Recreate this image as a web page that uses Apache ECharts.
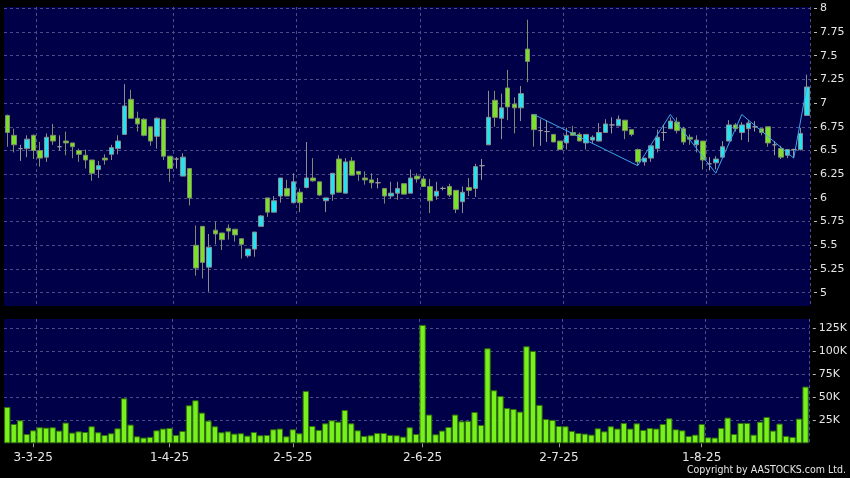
<!DOCTYPE html>
<html><head><meta charset="utf-8">
<script src="https://cdn.jsdelivr.net/npm/echarts@6/dist/echarts.min.js"></script>
<style>html,body{margin:0;padding:0;background:#000;}#c{width:850px;height:478px;}</style>
</head><body><div id="c"></div><script>
const dates = [
'25-2-25','26-2-25','27-2-25','28-2-25',
'3-3-25','4-3-25','5-3-25','6-3-25','7-3-25','10-3-25','11-3-25','12-3-25','13-3-25','14-3-25','17-3-25','18-3-25','19-3-25','20-3-25','21-3-25','24-3-25','25-3-25','26-3-25','27-3-25','28-3-25','31-3-25',
'1-4-25','2-4-25','3-4-25','7-4-25','8-4-25','9-4-25','10-4-25','11-4-25','14-4-25','15-4-25','16-4-25','17-4-25','22-4-25','23-4-25','24-4-25','25-4-25','28-4-25','29-4-25','30-4-25',
'2-5-25','6-5-25','7-5-25','8-5-25','9-5-25','12-5-25','13-5-25','14-5-25','15-5-25','16-5-25','19-5-25','20-5-25','21-5-25','22-5-25','23-5-25','26-5-25','27-5-25','28-5-25','29-5-25','30-5-25',
'2-6-25','3-6-25','4-6-25','5-6-25','6-6-25','9-6-25','10-6-25','11-6-25','12-6-25','13-6-25','16-6-25','17-6-25','18-6-25','19-6-25','20-6-25','23-6-25','24-6-25','25-6-25','26-6-25','27-6-25','30-6-25',
'2-7-25','3-7-25','4-7-25','7-7-25','8-7-25','9-7-25','10-7-25','11-7-25','14-7-25','15-7-25','16-7-25','17-7-25','18-7-25','21-7-25','22-7-25','23-7-25','24-7-25','25-7-25','28-7-25','29-7-25','30-7-25','31-7-25',
'1-8-25','4-8-25','5-8-25','6-8-25','7-8-25','8-8-25','11-8-25','12-8-25','13-8-25','14-8-25','15-8-25','18-8-25','19-8-25','20-8-25','21-8-25','22-8-25','25-8-25'];

const opens = [6.87,6.66,6.52,6.52,6.66,6.50,6.43,6.66,6.54,6.60,6.58,6.50,6.45,6.40,6.30,6.42,6.46,6.52,6.67,7.04,6.84,6.83,6.75,6.65,6.83,
6.44,6.41,6.23,6.31,5.50,5.70,5.27,5.66,5.63,5.68,5.67,5.57,5.39,5.46,5.70,6.00,5.85,6.02,6.10,
5.95,6.06,6.11,6.21,6.17,5.97,6.04,6.41,6.05,6.39,6.28,6.21,6.19,6.16,6.10,6.02,6.05,6.15,6.05,6.23,
6.20,6.12,6.02,6.10,6.12,6.08,5.96,6.11,6.10,6.34,6.56,7.03,6.84,7.16,6.99,6.95,7.57,6.88,6.71,6.70,6.67,
6.60,6.58,6.69,6.67,6.58,6.61,6.60,6.69,6.77,6.76,6.82,6.72,6.51,6.38,6.42,6.52,6.69,6.73,6.80,6.73,6.64,6.56,
6.60,6.36,6.37,6.43,6.60,6.77,6.69,6.73,6.75,6.73,6.75,6.56,6.52,6.45,6.51,6.51,6.87];
const closes = [6.69,6.56,6.52,6.62,6.50,6.42,6.64,6.60,6.54,6.58,6.54,6.46,6.40,6.26,6.34,6.40,6.53,6.60,6.97,6.84,6.78,6.66,6.60,6.84,6.44,
6.31,6.41,6.43,6.00,5.26,5.32,5.48,5.62,5.56,5.65,5.61,5.51,5.46,5.64,5.81,5.85,5.97,6.21,6.02,
6.17,5.95,6.21,6.18,6.03,6.00,6.26,6.06,6.38,6.24,6.25,6.19,6.16,6.16,6.02,6.05,6.10,6.04,6.21,6.20,
6.12,5.97,6.07,6.10,6.03,5.88,6.06,6.08,6.33,6.34,6.85,6.85,6.95,6.96,6.95,7.10,7.44,6.72,6.71,6.70,6.59,
6.51,6.66,6.66,6.60,6.67,6.64,6.69,6.78,6.77,6.83,6.71,6.67,6.38,6.42,6.55,6.64,6.69,6.81,6.71,6.59,6.62,6.61,
6.40,6.36,6.41,6.54,6.77,6.73,6.77,6.79,6.75,6.69,6.58,6.56,6.43,6.51,6.51,6.68,7.17];
const lows = [6.54,6.48,6.39,6.43,6.41,6.33,6.38,6.56,6.50,6.45,6.42,6.38,6.31,6.18,6.21,6.35,6.40,6.46,6.67,6.84,6.70,6.65,6.55,6.52,6.40,
6.17,6.31,6.23,5.92,5.18,5.15,5.01,5.51,5.45,5.56,5.54,5.36,5.37,5.38,5.70,5.80,5.85,5.95,6.02,
5.94,5.85,6.10,6.17,6.02,5.85,5.97,6.06,6.05,6.24,6.18,6.14,6.10,6.10,5.94,5.99,5.98,6.04,6.05,6.16,
6.12,5.84,5.98,6.08,6.01,5.84,5.84,6.02,6.01,6.19,6.56,6.75,6.62,6.82,6.68,6.81,7.22,6.54,6.55,6.59,6.59,
6.51,6.51,6.66,6.60,6.51,6.58,6.60,6.69,6.68,6.76,6.62,6.65,6.34,6.34,6.38,6.48,6.60,6.73,6.68,6.56,6.56,6.48,
6.30,6.29,6.30,6.43,6.60,6.70,6.61,6.59,6.70,6.66,6.54,6.45,6.41,6.42,6.42,6.50,6.87];
const highs = [6.88,6.73,6.56,6.66,6.67,6.59,6.68,6.78,6.66,6.70,6.58,6.52,6.51,6.40,6.39,6.46,6.56,6.66,7.20,7.14,6.91,6.84,6.75,6.85,6.83,
6.44,6.43,6.47,6.31,5.71,5.70,5.62,5.75,5.63,5.72,5.67,5.57,5.46,5.64,5.82,6.00,6.02,6.21,6.19,
6.26,6.10,6.59,6.42,6.17,6.00,6.26,6.45,6.42,6.43,6.28,6.28,6.26,6.21,6.10,6.17,6.17,6.15,6.30,6.26,
6.23,6.20,6.17,6.12,6.15,6.08,6.12,6.21,6.36,6.41,7.13,7.13,7.10,7.35,7.06,7.18,7.88,6.88,6.83,6.82,6.67,
6.60,6.74,6.76,6.69,6.67,6.66,6.79,6.83,6.85,6.87,6.82,6.72,6.52,6.42,6.55,6.72,6.77,6.85,6.85,6.75,6.67,6.66,
6.60,6.43,6.44,6.60,6.82,6.79,6.80,6.82,6.81,6.73,6.75,6.60,6.55,6.51,6.52,6.74,7.30];
const volumes = [39500,21000,25000,10100,14100,17400,17000,17400,13800,22500,11600,13000,12300,18500,12000,9000,10900,16300,48900,20300,7600,6200,6900,14100,16000,
16700,9000,13400,41300,46700,33300,24600,18500,12000,13000,10500,10900,8300,12300,8700,9000,15200,16000,7600,
15200,10900,56900,18800,14500,21700,25000,23500,36200,21700,14100,8000,8700,11200,11200,9000,8700,7200,17400,10100,
128600,31200,9800,13800,17700,31200,23900,24300,34000,19900,103200,57600,51400,38400,37300,34400,105400,100300,41700,26400,25400,
18800,18500,13400,11200,10500,9400,16300,13000,18500,16000,22100,16000,21700,14500,16700,16000,21000,27200,15200,14100,8000,9400,
21000,6500,6200,16700,27900,10100,22100,22100,9400,23500,28600,13800,21400,8000,6900,26800,61600];
const zigzagDates = ['25-6-25','18-7-25','25-7-25','5-8-25','11-8-25','21-8-25','25-8-25'];
const zigzagValues = [6.88,6.34,6.88,6.26,6.88,6.42,7.17];
const priceTicks = [5,5.25,5.5,5.75,6,6.25,6.5,6.75,7,7.25,7.5,7.75,8];
const volumeTicks = [25000,50000,75000,100000,125000];
const labelDates = ['3-3-25','1-4-25','2-5-25','2-6-25','2-7-25','1-8-25'];

const NAVY = '#000048';
const GRIDC = '#4c4c88';
const TXT = '#e6e6e6';
const FONT = 'DejaVu Sans';
const splitIdx = [5, 26, 45, 64, 86, 108];

const candleData = dates.map((d, i) => [opens[i], closes[i], lows[i], highs[i]]);
const zigzagData = zigzagDates.map((d, i) => [d, zigzagValues[i]]);

const chart = echarts.init(document.getElementById('c'), null, {renderer: 'canvas'});
const xCommon = {
  type: 'category', data: dates, boundaryGap: true,
  axisLine: {show: false},
  splitLine: {show: true, interval: (idx) => splitIdx.includes(idx), lineStyle: {color: GRIDC, type: [3, 3], width: 1}}
};
chart.setOption({
  animation: false,
  backgroundColor: '#000',
  graphic: [
    {type: 'rect', z: -10, silent: true, shape: {x: 4, y: 7, width: 806, height: 299}, style: {fill: NAVY}},
    {type: 'rect', z: -10, silent: true, shape: {x: 4, y: 319, width: 806, height: 124.3}, style: {fill: NAVY}},
    {type: 'text', right: 4, top: 465, style: {text: 'Copyright by AASTOCKS.com Ltd.', fill: TXT, font: '10.5px "DejaVu Sans Condensed", "DejaVu Sans"'}}
  ],
  grid: [
    {left: 4, right: 40, top: 7, height: 299},
    {left: 4, right: 40, top: 319, height: 124.3}
  ],
  xAxis: [
    Object.assign({gridIndex: 0, axisTick: {show: false}, axisLabel: {show: false}}, xCommon),
    Object.assign({gridIndex: 1,
      axisTick: {show: true, alignWithLabel: true, interval: (idx, v) => labelDates.includes(v), length: 4, lineStyle: {color: '#9a9a9a'}},
      axisLabel: {show: true, interval: (idx, v) => labelDates.includes(v), color: TXT, fontFamily: FONT, fontSize: 12, margin: 6},
      offset: 3}, xCommon)
  ],
  yAxis: [
    {gridIndex: 0, type: 'value', position: 'right', min: 4.86, max: 8.0137, offset: 4,
     axisLine: {show: false},
     axisTick: {show: true, length: 3, customValues: priceTicks, lineStyle: {color: '#bbbbbb'}},
     axisLabel: {customValues: priceTicks, color: TXT, fontFamily: FONT, fontSize: 11, margin: 6},
     splitLine: {show: true, lineStyle: {color: GRIDC, type: [3, 3], width: 1}}},
    {gridIndex: 1, type: 'value', position: 'right', min: 0, max: 135000, offset: 4,
     axisLine: {show: false},
     axisTick: {show: true, length: 3, customValues: volumeTicks, lineStyle: {color: '#bbbbbb'}},
     axisLabel: {customValues: volumeTicks, color: TXT, fontFamily: FONT, fontSize: 11, margin: 6,
                 formatter: (v) => (v / 1000) + 'K'},
     splitLine: {show: true, lineStyle: {color: GRIDC, type: [3, 3], width: 1}}}
  ],
  series: [
    {type: 'candlestick', xAxisIndex: 0, yAxisIndex: 0, data: candleData, barWidth: 5,
     itemStyle: {color: '#1ee4f4', color0: '#7ce02a', borderColor: '#8c8c8c', borderColor0: '#7d8c6a', borderColorDoji: '#9a9a9a', borderWidth: 1}},
    {type: 'line', xAxisIndex: 0, yAxisIndex: 0, data: zigzagData, symbol: 'none',
     lineStyle: {color: '#3ea6ea', width: 1}},
    {type: 'bar', xAxisIndex: 1, yAxisIndex: 1, data: volumes, barCategoryGap: '2%',
     itemStyle: {color: '#78f01c', borderColor: '#2f6e0c', borderWidth: 1}}
  ]
});
</script></body></html>
